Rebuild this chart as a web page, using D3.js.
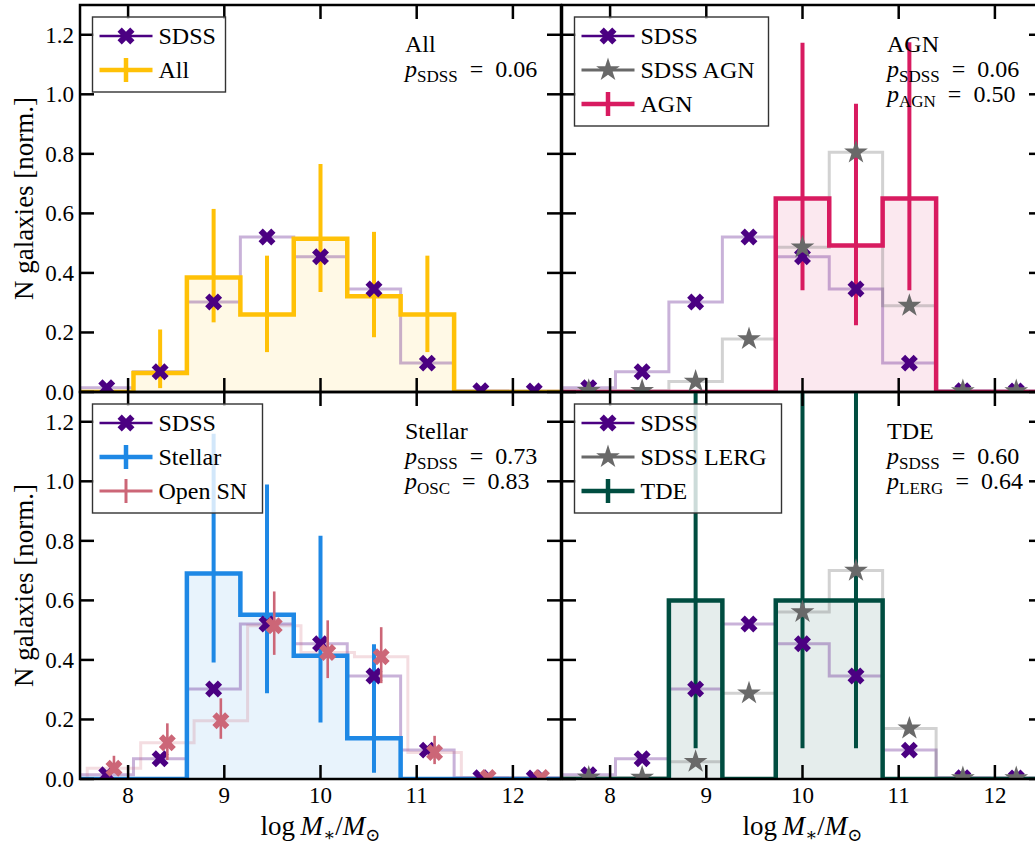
<!DOCTYPE html>
<html>
<head>
<meta charset="utf-8">
<script src="https://cdn.jsdelivr.net/npm/d3@7"></script>
<style>
  body { margin: 0; background: #fff; }
  svg { display: block; }
</style>
</head>
<body>
<svg id="chart" width="1035" height="846" font-family="'Liberation Serif', 'DejaVu Serif', serif"></svg>
<script>
// bins in log M*/Msun
const edges = [7.5, 8.056, 8.611, 9.167, 9.722, 10.278, 10.833, 11.389, 11.944, 12.5];
const centers = [7.778, 8.333, 8.889, 9.444, 10.0, 10.556, 11.111, 11.667, 12.222];
const xTicks = [8, 9, 10, 11, 12];
const yTicks = [0, 0.2, 0.4, 0.6, 0.8, 1.0, 1.2];

// SDSS reference sample (same in every panel)
const sdss = [0.014, 0.068, 0.302, 0.521, 0.454, 0.346, 0.097, 0.004, 0.003];

// All
const allVals = [0, 0.064, 0.385, 0.26, 0.515, 0.322, 0.26, 0, 0];
const allLo = [null, 0.013, 0.234, 0.134, 0.336, 0.184, 0.134, null, null];
const allHi = [null, 0.21, 0.615, 0.458, 0.766, 0.538, 0.458, null, null];

// AGN + SDSS AGN
const sdssAgn = [0.004, 0.004, 0.035, 0.178, 0.486, 0.805, 0.29, 0.003, 0.003];
const agnVals = [0, 0, 0, 0, 0.65, 0.492, 0.65, 0, 0];
const agnLo = [null, null, null, null, 0.342, 0.224, 0.342, null, null];
const agnHi = [null, null, null, null, 1.173, 0.968, 1.175, null, null];

// Stellar + Open SN catalogue
const stellarVals = [0, 0, 0.69, 0.552, 0.414, 0.137, 0, 0, 0];
const stellarLo = [null, null, 0.391, 0.288, 0.19, 0.021, null, null, null];
const stellarHi = [null, null, 1.16, 0.989, 0.817, 0.453, null, null, null];
const openSN = [0.036, 0.122, 0.196, 0.515, 0.425, 0.411, 0.089, 0.005, 0.005];
const openSNLo = [0.019, 0.064, 0.135, 0.417, 0.339, 0.322, 0.05, null, null];
const openSNHi = [0.078, 0.187, 0.271, 0.63, 0.533, 0.51, 0.145, null, null];
const openSNShift = 0.075;

// TDE + SDSS LERG
const sdssLerg = [0.005, 0.005, 0.058, 0.288, 0.561, 0.70, 0.17, 0.003, 0.003];
const tdeVals = [0, 0, 0.6, 0, 0.6, 0.6, 0, 0, 0];
const tdeLo = [null, null, 0.103, null, 0.103, 0.103, null, null, null];
const tdeHi = [null, null, 1.6, null, 1.6, 1.6, null, null, null];

const PURPLE = '#4B0082', GREY = '#696969';

const panels = [
    {col: 0, row: 0, main: {label: 'All', vals: allVals, lo: allLo, hi: allHi, color: '#FFC107'},
     title: 'All', ps: [['SDSS', '0.06']], legW: 133},
    {col: 1, row: 0, main: {label: 'AGN', vals: agnVals, lo: agnLo, hi: agnHi, color: '#D81B60'},
     comp: {label: 'SDSS AGN', vals: sdssAgn, color: GREY, marker: 'star'},
     title: 'AGN', ps: [['SDSS', '0.06'], ['AGN', '0.50']], legW: 194},
    {col: 0, row: 1, main: {label: 'Stellar', vals: stellarVals, lo: stellarLo, hi: stellarHi, color: '#1E88E5'},
     comp: {label: 'Open SN', vals: openSN, lo: openSNLo, hi: openSNHi, color: '#CC6677', marker: 'cross', shift: openSNShift},
     title: 'Stellar', ps: [['SDSS', '0.73'], ['OSC', '0.83']], legW: 170},
    {col: 1, row: 1, main: {label: 'TDE', vals: tdeVals, lo: tdeLo, hi: tdeHi, color: '#004D40'},
     comp: {label: 'SDSS LERG', vals: sdssLerg, color: GREY, marker: 'star'},
     title: 'TDE', ps: [['SDSS', '0.60'], ['LERG', '0.64']], legW: 207}
];

const W = 481, H = 387;
const colX = [80, 562], rowY = [5, 392];

const x = d3.scaleLinear().domain([7.5, 12.5]).range([0, W]);
const y = d3.scaleLinear().domain([0, 1.3]).range([H, 0]);

const svg = d3.select('#chart');
const crossPath = d3.symbol(d3.symbolCross, 180)();
const starPath = d3.symbol(d3.symbolStar, 175)();

function stepPoints(vals, shift) {
    const pts = [[edges[0] + shift, 0]];
    vals.forEach((v, i) => pts.push([edges[i] + shift, v]));
    pts.push([edges[edges.length - 1] + shift, vals[vals.length - 1]]);
    pts.push([edges[edges.length - 1] + shift, 0]);
    return pts;
}
const stepLine = d3.line().x(d => x(d[0])).y(d => y(d[1])).curve(d3.curveStepAfter);
const stepArea = d3.area().x(d => x(d[0])).y0(y(0)).y1(d => y(d[1])).curve(d3.curveStepAfter);

function drawMarkers(g, vals, shift, kind, color) {
    g.selectAll(null)
        .data(vals.map((v, i) => [centers[i] + shift, v]))
        .enter().append('path')
        .attr('d', kind == 'star' ? starPath : crossPath)
        .attr('transform', d => 'translate(' + x(d[0]) + ',' + y(d[1]) + ')' + (kind == 'star' ? '' : ' rotate(45)'))
        .attr('fill', color);
}

function drawErrors(g, lo, hi, shift, color, w) {
    const rows = [];
    lo.forEach((l, i) => { if (l != null) rows.push([centers[i] + shift, l, hi[i]]); });
    g.selectAll(null).data(rows).enter().append('line')
        .attr('x1', d => x(d[0])).attr('x2', d => x(d[0]))
        .attr('y1', d => y(d[1])).attr('y2', d => y(d[2]))
        .attr('stroke', color).attr('stroke-width', w);
}

function pText(g, px, py, sub, val) {
    const t = g.append('text').attr('x', px).attr('y', py).style('font-size', '24px');
    t.append('tspan').style('font-style', 'italic').text('p');
    t.append('tspan').attr('dy', 5).style('font-size', '17px').text(sub);
    t.append('tspan').attr('dy', -5).text('\u2002=\u2002' + val);
}

function drawLegend(g, lw, entries) {
    const lh = 34, bx = 12.5, by = 12;
    const bh = 22 + lh * (entries.length - 1) + 19;
    const lg = g.append('g').attr('transform', 'translate(' + bx + ',' + by + ')');
    lg.append('rect').attr('width', lw).attr('height', bh)
        .attr('fill', 'white').attr('fill-opacity', 0.8)
        .attr('stroke', '#333').attr('stroke-width', 1.4);
    entries.forEach((e, i) => {
        const cy = 19 + i * lh;
        const row = lg.append('g').attr('transform', 'translate(0,' + cy + ')');
        row.append('line').attr('x1', 7).attr('x2', 60).attr('y1', 0).attr('y2', 0)
            .attr('stroke', e.color).attr('stroke-width', e.lw);
        if (e.kind == 'cross') {
            row.append('path').attr('d', crossPath).attr('transform', 'translate(33.5,0) rotate(45)').attr('fill', e.color);
        } else if (e.kind == 'star') {
            row.append('path').attr('d', starPath).attr('transform', 'translate(33.5,0)').attr('fill', e.color);
        } else {
            row.append('line').attr('x1', 33.5).attr('x2', 33.5).attr('y1', -12).attr('y2', 12)
                .attr('stroke', e.color).attr('stroke-width', e.lw);
        }
        row.append('text').attr('x', 66).attr('y', 8).style('font-size', '24px').text(e.label);
    });
}

panels.forEach((p, k) => {
    const g = svg.append('g').attr('transform', 'translate(' + colX[p.col] + ',' + rowY[p.row] + ')');
    const clipId = 'clip' + k;
    g.append('clipPath').attr('id', clipId).append('rect').attr('width', W).attr('height', H);
    const plot = g.append('g').attr('clip-path', 'url(#' + clipId + ')');

    // annotation text (sits under the data, as in the figure)
    const tx = 325, ty = 47;
    g.append('text').attr('x', tx).attr('y', ty).style('font-size', '24px').text(p.title);
    p.ps.forEach((s, i) => pText(g, tx, ty + 25 * (i + 1), s[0], s[1]));

    // step histograms
    plot.append('path').attr('d', stepArea(stepPoints(p.main.vals, 0)))
        .attr('fill', p.main.color).attr('fill-opacity', 0.1);
    plot.append('path').attr('d', stepLine(stepPoints(sdss, 0)))
        .attr('fill', 'none').attr('stroke', PURPLE).attr('stroke-opacity', 0.3).attr('stroke-width', 3);
    if (p.comp) {
        plot.append('path').attr('d', stepLine(stepPoints(p.comp.vals, p.comp.shift || 0)))
            .attr('fill', 'none').attr('stroke', p.comp.color)
            .attr('stroke-opacity', p.comp.marker == 'star' ? 0.3 : 0.22).attr('stroke-width', 3);
    }
    plot.append('path').attr('d', stepLine(stepPoints(p.main.vals, 0)))
        .attr('fill', 'none').attr('stroke', p.main.color).attr('stroke-width', 4.5)
        .attr('stroke-linejoin', 'miter');

    // error bars and markers
    drawErrors(plot, p.main.lo, p.main.hi, 0, p.main.color, 4);
    drawMarkers(plot, sdss, 0, 'cross', PURPLE);
    if (p.comp) {
        if (p.comp.lo) drawErrors(plot, p.comp.lo, p.comp.hi, p.comp.shift, p.comp.color, 2.6);
        drawMarkers(plot, p.comp.vals, p.comp.shift || 0, p.comp.marker, p.comp.color);
    }

    // ticks (inward, all four sides)
    const tk = g.append('g').attr('stroke', 'black').attr('stroke-width', 2.5);
    xTicks.forEach(t => {
        tk.append('line').attr('x1', x(t)).attr('x2', x(t)).attr('y1', H).attr('y2', H - 14);
        tk.append('line').attr('x1', x(t)).attr('x2', x(t)).attr('y1', 0).attr('y2', 14);
    });
    yTicks.forEach(t => {
        tk.append('line').attr('x1', 0).attr('x2', 14).attr('y1', y(t)).attr('y2', y(t));
        tk.append('line').attr('x1', W).attr('x2', W - 14).attr('y1', y(t)).attr('y2', y(t));
    });
    g.append('rect').attr('width', W).attr('height', H)
        .attr('fill', 'none').attr('stroke', 'black').attr('stroke-width', 2.5);

    // tick labels on outer panels
    if (p.col == 0) {
        g.selectAll(null).data(yTicks).enter().append('text')
            .attr('x', -6).attr('y', d => y(d) + 8).attr('text-anchor', 'end')
            .style('font-size', '23px').text(d => d.toFixed(1));
        g.append('text')
            .attr('transform', 'translate(-47,' + (H / 2) + ') rotate(-90)')
            .attr('text-anchor', 'middle').style('font-size', '27px').text('N galaxies [norm.]');
    }
    if (p.row == 1) {
        g.selectAll(null).data(xTicks).enter().append('text')
            .attr('x', d => x(d)).attr('y', H + 24).attr('text-anchor', 'middle')
            .style('font-size', '23px').text(d => d);
        const xl = g.append('text').attr('x', W / 2).attr('y', H + 56)
            .attr('text-anchor', 'middle').style('font-size', '27px');
        xl.append('tspan').text('log\u2009');
        xl.append('tspan').style('font-style', 'italic').text('M');
        xl.append('tspan').attr('dy', 6).style('font-size', '18px').text('\u2217');
        xl.append('tspan').attr('dy', -6).text('/');
        xl.append('tspan').style('font-style', 'italic').text('M');
        xl.append('tspan').attr('dy', 6).style('font-size', '18px').text('\u2299');
    }

    // legend: SDSS first; stellar lists its own sample before Open SN
    const entries = [{label: 'SDSS', kind: 'cross', color: PURPLE, lw: 2.5}];
    const mainEntry = {label: p.main.label, kind: 'err', color: p.main.color, lw: 4.5};
    let compEntry = null;
    if (p.comp) {
        compEntry = p.comp.marker == 'star'
            ? {label: p.comp.label, kind: 'star', color: GREY, lw: 3}
            : {label: p.comp.label, kind: 'err', color: p.comp.color, lw: 3};
    }
    if (compEntry && compEntry.kind == 'err') {
        entries.push(mainEntry, compEntry);
    } else {
        if (compEntry) entries.push(compEntry);
        entries.push(mainEntry);
    }
    drawLegend(g, p.legW, entries);
});
</script>
</body>
</html>
